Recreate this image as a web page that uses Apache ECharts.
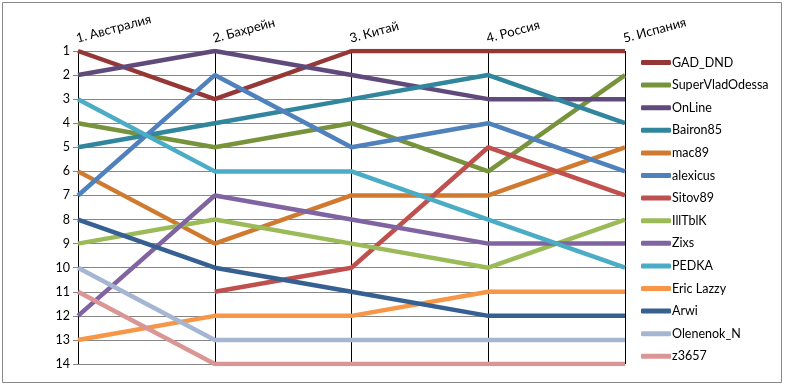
<!DOCTYPE html>
<html><head><meta charset="utf-8">
<script src="https://cdn.jsdelivr.net/npm/echarts@6/dist/echarts.min.js"></script>
<style>html,body{margin:0;padding:0;background:#fff}#c{width:785px;height:386px}</style>
</head><body><div id="c"></div>
<script>
const categories = ['1. Австралия', '2. Бахрейн', '3. Китай', '4. Россия', '5. Испания'];
const rankTicks = [1,2,3,4,5,6,7,8,9,10,11,12,13,14];
const names = ['GAD_DND','SuperVladOdessa','OnLine','Bairon85','mac89','alexicus','Sitov89','IllTblK','Zixs','PEDKA','Eric Lazzy','Arwi','Olenenok_N','z3657'];
const GAD_DND = [1, 3, 1, 1, 1];
const SuperVladOdessa = [4, 5, 4, 6, 2];
const OnLine = [2, 1, 2, 3, 3];
const Bairon85 = [5, 4, 3, 2, 4];
const mac89 = [6, 9, 7, 7, 5];
const alexicus = [7, 2, 5, 4, 6];
const Sitov89 = [null, 11, 10, 5, 7];
const IllTblK = [9, 8, 9, 10, 8];
const Zixs = [12, 7, 8, 9, 9];
const PEDKA = [3, 6, 6, 8, 10];
const EricLazzy = [13, 12, 12, 11, 11];
const Arwi = [8, 10, 11, 12, 12];
const Olenenok_N = [10, 13, 13, 13, 13];
const z3657 = [11, 14, 14, 14, 14];
const values = [GAD_DND, SuperVladOdessa, OnLine, Bairon85, mac89, alexicus, Sitov89, IllTblK, Zixs, PEDKA, EricLazzy, Arwi, Olenenok_N, z3657];
const colors = ['#953735','#77933C','#604A7B','#31859C','#D07A30','#4F81BD','#C0504D','#9BBB59','#8064A2','#4BACC6','#F79646','#376092','#A5B6D3','#D99694'];

const chart = echarts.init(document.getElementById('c'));
const font = 'Lato, "Open Sans", sans-serif';
chart.setOption({
  animation: false,
  color: colors,
  textStyle: {fontFamily: font},
  graphic: [{type:'rect', shape:{x:2.5, y:2.5, width:779, height:380}, style:{fill:'none', stroke:'#888', lineWidth:1}, silent:true}],
  grid: {left: 78, top: 51, width: 547, height: 313},
  legend: {
    orient: 'vertical', left: 636, top: 51,
    itemWidth: 30, itemHeight: 5, itemGap: 9.6,
    icon: 'roundRect',
    textStyle: {fontFamily: font, fontSize: 12.5, color: '#000', padding: [0,0,0,-4]},
    data: names
  },
  xAxis: {
    type: 'category', boundaryGap: false, position: 'top', data: categories,
    axisLine: {show: false}, axisTick: {show: false},
    splitLine: {show: true, lineStyle: {color: '#000', width: 1}},
    axisLabel: {rotate: -15, align: 'left', verticalAlign: 'bottom', margin: 6, color: '#000', fontSize: 13, fontFamily: font, interval: 0}
  },
  yAxis: {
    type: 'value', inverse: true, min: 1, max: 14, interval: 1,
    axisLine: {show: false},
    axisTick: {show: true, length: 5, lineStyle: {color: '#868686'}},
    splitLine: {show: true, lineStyle: {color: '#868686', width: 1}},
    axisLabel: {color: '#000', fontSize: 12.5, margin: 8, fontFamily: font,
      formatter: v => rankTicks.includes(v) ? String(v) : ''}
  },
  series: names.map((n, i) => ({
    name: n, type: 'line', data: values[i], showSymbol: false, symbol: 'none',
    lineStyle: {width: 4.5, color: colors[i]}, itemStyle: {color: colors[i]},
    connectNulls: false
  }))
});
</script></body></html>
